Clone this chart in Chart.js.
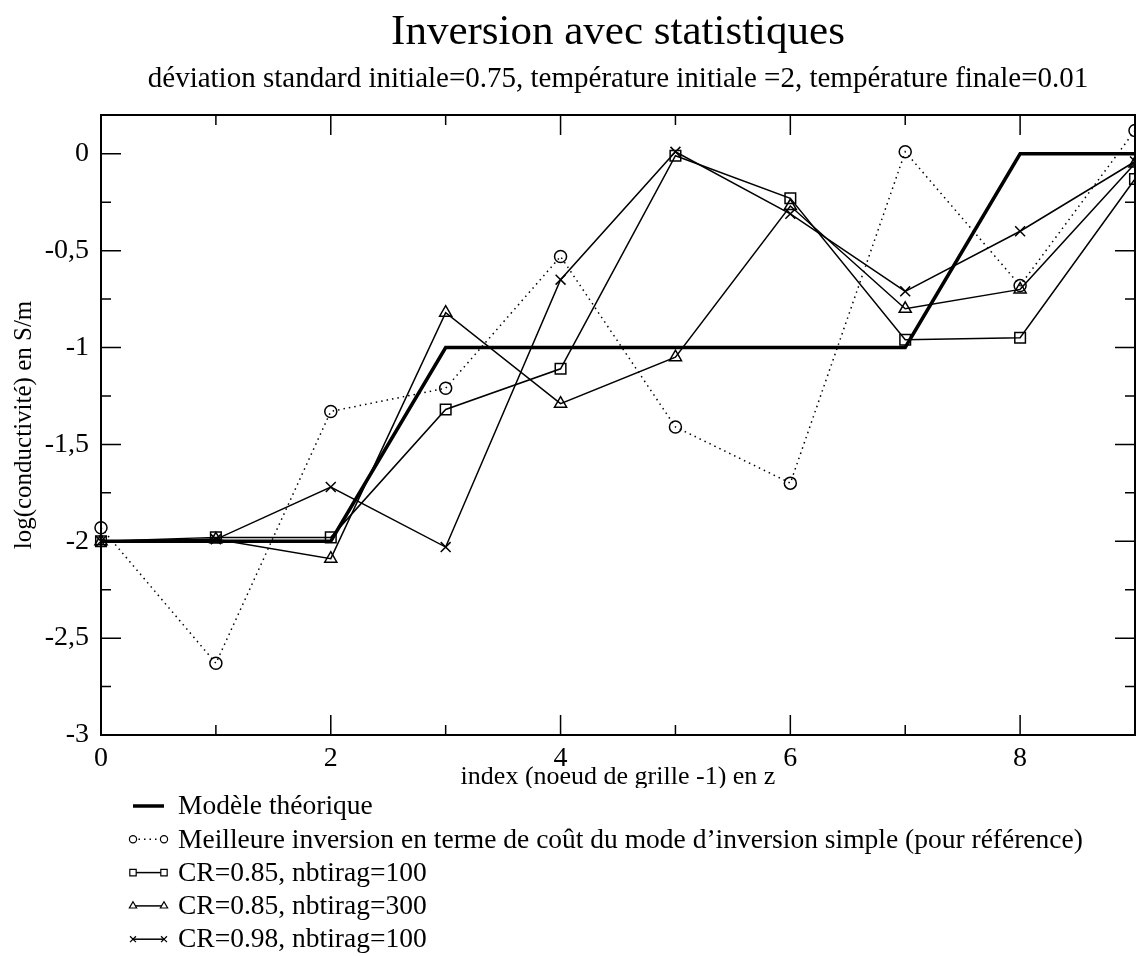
<!DOCTYPE html>
<html>
<head>
<meta charset="utf-8">
<script src="https://cdn.jsdelivr.net/npm/chart.js@4.4.1/dist/chart.umd.min.js"></script>
<style>
  html, body { margin: 0; padding: 0; background: #fff; }
</style>
</head>
<body>
<canvas id="chartCanvas" width="1136" height="956"></canvas>
<script>
// ------------------ DATA ------------------
const xIndex = [0, 1, 2, 3, 4, 5, 6, 7, 8, 9];

const modeleTheorique    = [-2, -2, -2, -1, -1, -1, -1, -1, 0, 0];
const meilleureInversion = [-1.93, -2.63, -1.33, -1.21, -0.53, -1.41, -1.70, 0.01, -0.68, 0.12];
const cr085nb100         = [-2.00, -1.98, -1.98, -1.32, -1.11, -0.01, -0.23, -0.96, -0.95, -0.13];
const cr085nb300         = [-2.00, -1.99, -2.09, -0.82, -1.29, -1.05, -0.27, -0.80, -0.70, -0.05];
const cr098nb100         = [-2.00, -1.99, -1.72, -2.03, -0.65, 0.01, -0.31, -0.71, -0.40, -0.04];

const seriesLabels = [
  "Modèle théorique",
  "Meilleure inversion en terme de coût du mode d’inversion simple (pour référence)",
  "CR=0.85, nbtirag=100",
  "CR=0.85, nbtirag=300",
  "CR=0.98, nbtirag=100"
];

const xTicks = [0, 2, 4, 6, 8];
const xMinorTicks = [1, 3, 5, 7];
const yTicks = [-3, -2.5, -2, -1.5, -1, -0.5, 0];
const yMinorTicks = [-2.75, -2.25, -1.75, -1.25, -0.75, -0.25];

const titleText = "Inversion avec statistiques";
const subtitleText = "déviation standard initiale=0.75, température initiale =2, température finale=0.01";
const xTitle = "index (noeud de grille -1) en z";
const yTitle = "log(conductivité) en S/m";

const SERIF = '"Liberation Serif", "DejaVu Serif", serif';

function toPoints(arr) {
  return xIndex.map((x, i) => ({ x: x, y: arr[i] }));
}

// ------------------ DECORATION PLUGIN ------------------
const decor = {
  id: "decor",
  beforeDraw(chart) {
    const ctx = chart.ctx;
    ctx.save();
    ctx.fillStyle = "#fff";
    ctx.fillRect(0, 0, chart.width, chart.height);
    ctx.restore();
  },
  afterDraw(chart) {
    const ctx = chart.ctx;
    const a = chart.chartArea;
    const xs = chart.scales.x;
    const ys = chart.scales.y;

    ctx.save();
    ctx.strokeStyle = "#000";
    ctx.fillStyle = "#000";

    // frame
    ctx.lineWidth = 2;
    ctx.strokeRect(a.left, a.top, a.right - a.left, a.bottom - a.top);

    // inward ticks on all four sides
    ctx.lineWidth = 1.5;
    ctx.beginPath();
    const tickX = (v, len) => {
      const p = xs.getPixelForValue(v);
      ctx.moveTo(p, a.bottom); ctx.lineTo(p, a.bottom - len);
      ctx.moveTo(p, a.top); ctx.lineTo(p, a.top + len);
    };
    const tickY = (v, len) => {
      const p = ys.getPixelForValue(v);
      ctx.moveTo(a.left, p); ctx.lineTo(a.left + len, p);
      ctx.moveTo(a.right, p); ctx.lineTo(a.right - len, p);
    };
    xTicks.forEach(v => tickX(v, 20));
    xMinorTicks.forEach(v => tickX(v, 10));
    yTicks.forEach(v => tickY(v, 20));
    yMinorTicks.forEach(v => tickY(v, 10));
    ctx.stroke();

    const cx = (a.left + a.right) / 2;

    // titles
    ctx.textAlign = "center";
    ctx.textBaseline = "alphabetic";
    ctx.font = "43px " + SERIF;
    ctx.fillText(titleText, cx, 44);
    ctx.font = "29px " + SERIF;
    ctx.fillText(subtitleText, cx, 87);

    // x axis title
    ctx.font = "26px " + SERIF;
    ctx.fillText(xTitle, cx, 784);

    // y axis title
    ctx.save();
    ctx.translate(31, (a.top + a.bottom) / 2);
    ctx.rotate(-Math.PI / 2);
    ctx.font = "25px " + SERIF;
    ctx.fillText(yTitle, 0, 0);
    ctx.restore();

    // legend box
    ctx.fillStyle = "#fff";
    ctx.fillRect(110, 788, 990, 168);
    ctx.fillStyle = "#000";
    ctx.textAlign = "left";
    ctx.textBaseline = "middle";
    ctx.font = "27.5px " + SERIF;
    chart.data.datasets.forEach((ds, i) => {
      const ly = 806 + i * 33.3;
      ctx.save();
      ctx.lineWidth = ds.borderWidth;
      ctx.setLineDash(ds.borderDash || []);
      ctx.beginPath();
      ctx.moveTo(133, ly);
      ctx.lineTo(164, ly);
      ctx.stroke();
      ctx.restore();
      if (ds.pointRadius > 0) {
        const opts = { pointStyle: ds.pointStyle, rotation: 0, radius: ds.pointRadius * 0.6, borderWidth: 1.2 };
        ctx.save();
        ctx.strokeStyle = "#000";
        ctx.fillStyle = "#fff";
        ctx.lineWidth = 1.2;
        Chart.helpers.drawPoint(ctx, opts, 133, ly);
        Chart.helpers.drawPoint(ctx, opts, 164, ly);
        ctx.restore();
      }
      ctx.fillText(ds.label, 178, ly + 1);
    });

    ctx.restore();
  }
};

// ------------------ CHART ------------------
const common = {
  borderColor: "#000",
  pointBorderColor: "#000",
  pointBackgroundColor: "rgba(0,0,0,0)",
  pointBorderWidth: 1.5,
  tension: 0,
  clip: false
};

const datasets = [
  Object.assign({}, common, {
    label: seriesLabels[0], data: toPoints(modeleTheorique),
    borderWidth: 3.5, pointRadius: 0, pointHoverRadius: 0, pointStyle: "line"
  }),
  Object.assign({}, common, {
    label: seriesLabels[1], data: toPoints(meilleureInversion),
    borderWidth: 1.5, borderDash: [1.5, 4], pointStyle: "circle", pointRadius: 6, pointHoverRadius: 6
  }),
  Object.assign({}, common, {
    label: seriesLabels[2], data: toPoints(cr085nb100),
    borderWidth: 1.5, pointStyle: "rect", pointRadius: 7.5, pointHoverRadius: 7.5
  }),
  Object.assign({}, common, {
    label: seriesLabels[3], data: toPoints(cr085nb300),
    borderWidth: 1.5, pointStyle: "triangle", pointRadius: 7, pointHoverRadius: 7
  }),
  Object.assign({}, common, {
    label: seriesLabels[4], data: toPoints(cr098nb100),
    borderWidth: 1.5, pointStyle: "crossRot", pointRadius: 7, pointHoverRadius: 7
  })
];

const chart = new Chart(document.getElementById("chartCanvas").getContext("2d"), {
  type: "line",
  data: { datasets: datasets },
  plugins: [decor],
  options: {
    responsive: false,
    devicePixelRatio: 1,
    animation: false,
    events: [],
    layout: { autoPadding: false, padding: { top: 115, right: 1, bottom: 0, left: 0 } },
    plugins: {
      legend: { display: false },
      title: { display: false },
      tooltip: { enabled: false }
    },
    scales: {
      x: {
        type: "linear",
        min: 0,
        max: 9,
        afterBuildTicks: s => { s.ticks = xTicks.map(v => ({ value: v })); },
        afterFit: s => { s.height = 221; s.paddingLeft = 0; s.paddingRight = 0; },
        grid: { display: false, drawTicks: false },
        border: { display: false },
        ticks: {
          color: "#000",
          padding: 7,
          maxRotation: 0,
          font: { family: SERIF, size: 28 }
        }
      },
      y: {
        type: "linear",
        min: -3,
        max: 0.2,
        afterBuildTicks: s => { s.ticks = yTicks.map(v => ({ value: v })); },
        afterFit: s => { s.width = 101; s.paddingTop = 0; s.paddingBottom = 0; },
        grid: { display: false, drawTicks: false },
        border: { display: false },
        ticks: {
          color: "#000",
          padding: 12,
          font: { family: SERIF, size: 28 },
          callback: v => String(v).replace(".", ",")
        }
      }
    }
  }
});
</script>
</body>
</html>
